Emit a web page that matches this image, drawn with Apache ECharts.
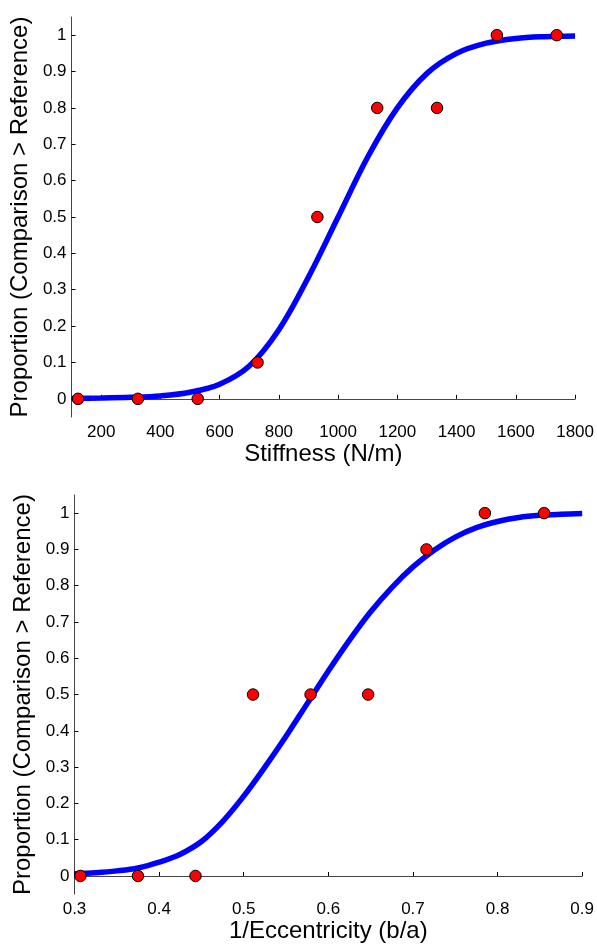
<!DOCTYPE html>
<html>
<head>
<meta charset="utf-8">
<script src="https://cdn.jsdelivr.net/npm/echarts@6/dist/echarts.min.js"></script>
<style>
  html, body { margin: 0; padding: 0; background: #fff; }
  #main { width: 597px; height: 944px; }
</style>
</head>
<body>
<div id="main"></div>
<script>
// top panel: stiffness
var stiffX = [122, 324, 526, 728, 930, 1132, 1334, 1536, 1738];
var stiffY = [0, 0, 0, 0.1, 0.5, 0.8, 0.8, 1, 1];
// fitted curve
var stiffFitX = [100, 200, 300, 400, 500, 600, 700, 800, 900, 1000, 1100, 1200, 1300, 1400, 1500, 1600, 1700, 1800];
var stiffFitY = [0.001, 0.002, 0.004, 0.008, 0.018, 0.04, 0.09, 0.19, 0.335, 0.5, 0.665, 0.8, 0.895, 0.95, 0.978, 0.991, 0.996, 0.998];
var stiffTicks = [200, 400, 600, 800, 1000, 1200, 1400, 1600, 1800];

// bottom panel: 1/eccentricity
var eccX = [0.307, 0.375, 0.443, 0.511, 0.579, 0.647, 0.716, 0.785, 0.855];
var eccY = [0, 0, 0, 0.5, 0.5, 0.5, 0.9, 1, 1];
var eccFitX = [0.3, 0.325, 0.35, 0.375, 0.4, 0.425, 0.45, 0.475, 0.5, 0.525, 0.55, 0.575, 0.6, 0.625, 0.65, 0.675, 0.7, 0.725, 0.75, 0.775, 0.8, 0.825, 0.85, 0.875, 0.9];
var eccFitY = [0.006, 0.009, 0.014, 0.022, 0.038, 0.06, 0.095, 0.15, 0.22, 0.3, 0.385, 0.475, 0.565, 0.65, 0.728, 0.795, 0.852, 0.898, 0.934, 0.96, 0.977, 0.988, 0.994, 0.997, 0.999];
var eccTicks = [0.3, 0.4, 0.5, 0.6, 0.7, 0.8, 0.9];

var yTicks = [0, 0.1, 0.2, 0.3, 0.4, 0.5, 0.6, 0.7, 0.8, 0.9, 1];

function pairs(xs, ys) {
    return xs.map(function (x, i) { return [x, ys[i]]; });
}

var font = 'Liberation Sans, Arial, Helvetica, sans-serif';
var axisCol = '#444';

function xAxisOpt(idx, min, max, ticks, name, gap) {
    return {
        gridIndex: idx, type: 'value', min: min, max: max,
        name: name, nameLocation: 'middle', nameGap: gap,
        nameTextStyle: { color: '#000', fontSize: 24, fontFamily: font },
        axisLine: { show: true, lineStyle: { color: axisCol, width: 1 } },
        axisTick: { show: true, inside: true, length: 4, customValues: ticks, lineStyle: { color: '#000' } },
        axisLabel: { customValues: ticks, margin: 7, color: '#000', fontSize: 17, fontFamily: font,
            formatter: function (v) { return String(+v.toFixed(2)); } },
        splitLine: { show: false }
    };
}

function yAxisOpt(idx, gap) {
    return {
        gridIndex: idx, type: 'value', min: -0.05, max: 1.05,
        name: 'Proportion (Comparison > Reference)', nameLocation: 'middle', nameGap: gap,
        nameTextStyle: { color: '#000', fontSize: 24, fontFamily: font },
        axisLine: { show: true, lineStyle: { color: axisCol, width: 1 } },
        axisTick: { show: true, inside: true, length: 4, customValues: yTicks, lineStyle: { color: '#000' } },
        axisLabel: { customValues: yTicks, margin: 5, color: '#000', fontSize: 17, fontFamily: font,
            formatter: function (v) { return String(+v.toFixed(1)); } },
        splitLine: { show: false }
    };
}

var dotStyle = { color: '#ff0000', borderColor: '#000', borderWidth: 1, opacity: 1 };

var myChart = echarts.init(document.getElementById('main'));
var option = {
    backgroundColor: '#fff',
    animation: false,
    grid: [
        { left: 69, top: 17, width: 507, height: 400 },
        { left: 74.5, top: 495, width: 508, height: 400 }
    ],
    xAxis: [
        xAxisOpt(0, 100, 1800, stiffTicks, 'Stiffness (N/m)', 23),
        xAxisOpt(1, 0.3, 0.9, eccTicks, '1/Eccentricity (b/a)', 22)
    ],
    yAxis: [yAxisOpt(0, 30), yAxisOpt(1, 30)],
    series: [
        { type: 'line', xAxisIndex: 0, yAxisIndex: 0, data: pairs(stiffFitX, stiffFitY), smooth: 0.35,
          showSymbol: false, lineStyle: { color: '#0000ff', width: 5.5 }, z: 2 },
        { type: 'scatter', xAxisIndex: 0, yAxisIndex: 0, data: pairs(stiffX, stiffY), symbolSize: 11.5,
          itemStyle: dotStyle, z: 3 },
        { type: 'line', xAxisIndex: 1, yAxisIndex: 1, data: pairs(eccFitX, eccFitY), smooth: 0.35,
          showSymbol: false, lineStyle: { color: '#0000ff', width: 5.5 }, z: 2 },
        { type: 'scatter', xAxisIndex: 1, yAxisIndex: 1, data: pairs(eccX, eccY), symbolSize: 11.5,
          itemStyle: dotStyle, z: 3 }
    ]
};
myChart.setOption(option);
</script>
</body>
</html>
